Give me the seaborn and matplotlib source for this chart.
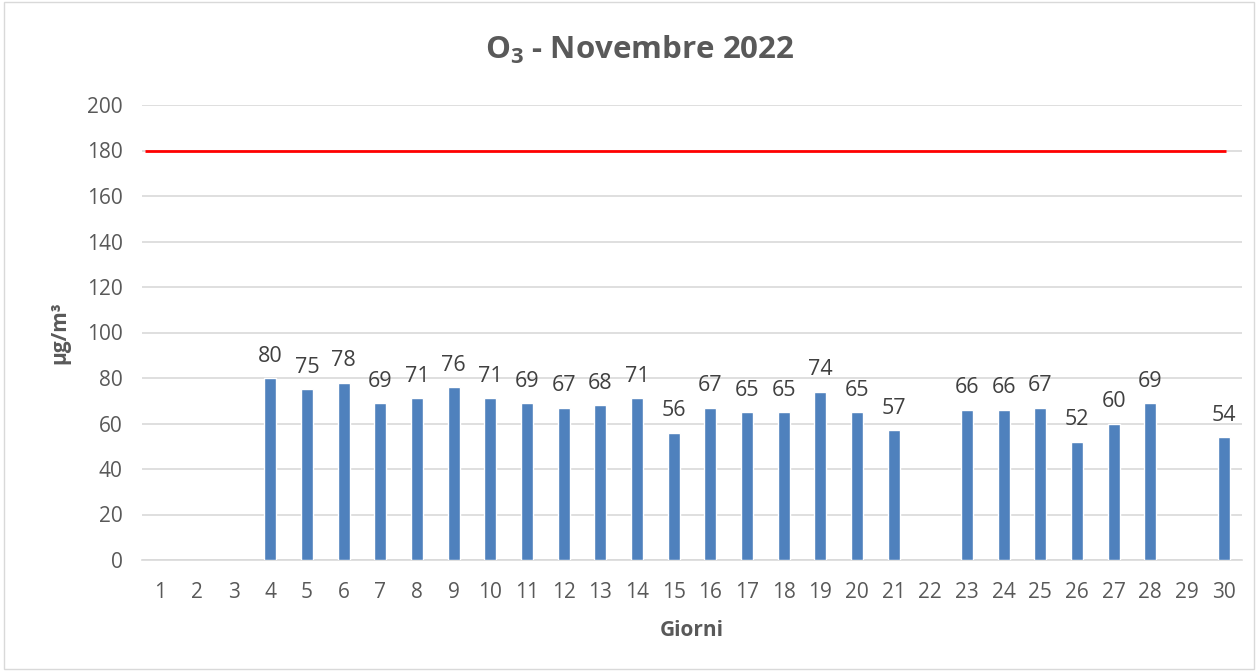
import matplotlib
matplotlib.use("Agg")
import matplotlib.pyplot as plt
import seaborn as sns
import pandas as pd
import numpy as np

days = [str(d) for d in range(1, 31)]
values = [np.nan, np.nan, np.nan, 80, 75, 78, 69, 71, 76, 71, 69, 67, 68, 71, 56,
          67, 65, 65, 74, 65, 57, np.nan, 66, 66, 67, 52, 60, 69, np.nan, 54]
limit = 180
title = "O$_3$ - Novembre 2022"

sns.set_theme(style="white")
plt.rcParams['font.family'] = ['Open Sans', 'DejaVu Sans']
plt.rcParams['mathtext.fontset'] = 'custom'
plt.rcParams['mathtext.rm'] = 'Open Sans:bold'
plt.rcParams['mathtext.bf'] = 'Open Sans:bold'

df = pd.DataFrame({"Giorno": days, "Valore": values})

fig = plt.figure(figsize=(12.58, 6.71), dpi=100)
ax = fig.add_axes([142/1258, 1 - 560/671, 1100/1258, 455/671])

sns.barplot(data=df, x="Giorno", y="Valore", color="#4F81BD", width=0.33,
            saturation=1, ax=ax, zorder=3)

ax.hlines(limit, -0.41, 29.06, color="#FF0000", linewidth=2, zorder=4)

for i, v in enumerate(values):
    if not np.isnan(v):
        ax.text(i, v + 5, f"{int(v)}", ha="center", va="bottom",
                fontsize=15.5, color="#404040")

ax.set_ylim(0, 200)
ax.set_xlim(-0.5, 29.5)
ax.set_yticks(range(0, 201, 20))
ax.yaxis.grid(True, color="#D9D9D9", linewidth=1.2, zorder=0)
ax.set_axisbelow(True)
for s in ["top", "right", "left"]:
    ax.spines[s].set_visible(False)
ax.spines["bottom"].set_color("#D9D9D9")
ax.spines["bottom"].set_linewidth(1.2)

ax.set_xticks(np.arange(-0.5, 30, 1), minor=True)
ax.tick_params(axis="x", which="minor", length=6, color="#D9D9D9", width=1.2)
ax.tick_params(axis="x", which="major", length=0, pad=16, labelsize=15, labelcolor="#595959")
ax.tick_params(axis="y", length=0, pad=14, labelsize=15, labelcolor="#595959")

ax.set_xlabel("Giorni", fontsize=15, fontweight="bold", color="#595959", labelpad=12)
ax.set_ylabel("µg/m³", fontsize=15, fontweight="bold", color="#595959", labelpad=12)

fig.text(640/1258, 1 - 50/671, title, ha="center", va="center", fontsize=22.5,
         fontweight="bold", color="#595959")

border = plt.Rectangle((0.003, 0.003), 0.994, 0.994, transform=fig.transFigure,
                       fill=False, edgecolor="#D9D9D9", linewidth=1)
fig.patches.append(border)

fig.savefig("out.png", dpi=100)
